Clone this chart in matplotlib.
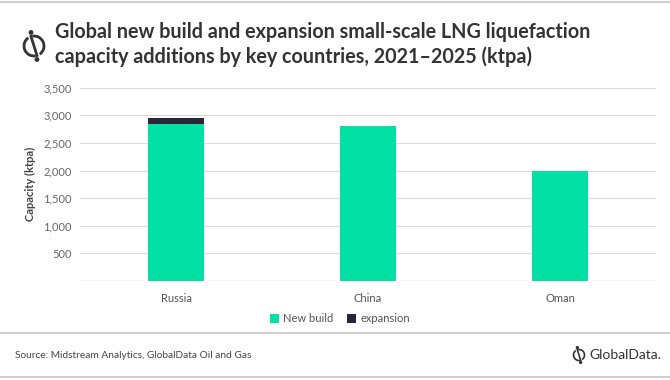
import matplotlib
matplotlib.use("Agg")
import matplotlib.pyplot as plt
from matplotlib.patches import Arc, Circle
from matplotlib.lines import Line2D

countries = ["Russia", "China", "Oman"]
new_build = [2850, 2800, 2000]
expansion = [100, 0, 0]
yticks = [500, 1000, 1500, 2000, 2500, 3000, 3500]

GREEN = "#03E0A3"
DARK = "#2A2639"
FONT = ["Lato", "DejaVu Sans"]
plt.rcParams["font.family"] = FONT

W, H = 670, 380
fig = plt.figure(figsize=(W / 100, H / 100), dpi=100)

ax = fig.add_axes([80 / W, 1 - 281 / H, (656 - 80) / W, (281 - 87.7) / H])
x = list(range(len(countries)))
ax.bar(x, new_build, width=0.29, color=GREEN, label="New build", zorder=3)
ax.bar(x, expansion, width=0.29, bottom=new_build, color=DARK, label="expansion", zorder=3)
ax.set_xlim(-0.5, len(countries) - 0.5)
ax.set_ylim(0, 3500)
ax.set_yticks(yticks)
ax.set_yticklabels([f"{v:,}" for v in yticks], color="#666666", fontsize=8)
ax.set_xticks(x)
ax.set_xticklabels(countries, color="#555555", fontsize=8)
ax.tick_params(length=0, pad=6)
ax.tick_params(axis="x", pad=9)
ax.grid(axis="y", color="#D9D9D9", linewidth=0.8, zorder=0)
ax.axhline(0, color="#D9D9D9", linewidth=1.0, zorder=2)
for s in ax.spines.values():
    s.set_visible(False)
ax.set_ylabel("Capacity (ktpa)", fontsize=8, fontweight="bold", color="#444444", labelpad=5)

leg = fig.legend(loc="center", bbox_to_anchor=(340 / W, 1 - 319 / H), ncol=2, frameon=False,
                 fontsize=8, handlelength=0.8, handleheight=0.8, handletextpad=0.4, columnspacing=1.2)
for t in leg.get_texts():
    t.set_color("#555555")

# title
fig.text(55 / W, 1 - 32 / H, "Global new build and expansion small-scale LNG liquefaction",
         fontsize=14.2, fontweight="bold", color="#333333", va="center", ha="left")
fig.text(55 / W, 1 - 57 / H, "capacity additions by key countries, 2021\u20132025 (ktpa)",
         fontsize=14.2, fontweight="bold", color="#333333", va="center", ha="left")

# separators
for yy in [1.5, 333, 377]:
    fig.add_artist(Line2D([0, 1], [1 - yy / H] * 2, color="#D0D0D0", linewidth=1.5,
                          transform=fig.transFigure))

fig.text(15 / W, 1 - 355 / H, "Source: Midstream Analytics, GlobalData Oil and Gas",
         fontsize=7.3, color="#444444", va="center", ha="left")
fig.text(589 / W, 1 - 355 / H, "GlobalData.", fontsize=10, color="#333333", va="center", ha="left")

# logos (overlay axes in pixel coords)
lax = fig.add_axes([0, 0, 1, 1], zorder=10)
lax.set_xlim(0, W)
lax.set_ylim(0, H)
lax.axis("off")

def logo(cx, cy, r, lw):
    cy = H - cy
    lax.add_patch(Arc((cx, cy), 2 * r, 2 * r, theta1=125, theta2=280, color="#333333", lw=lw))
    lax.add_patch(Arc((cx, cy), 2 * r, 2 * r, theta1=305, theta2=460, color="#333333", lw=lw))
    lax.plot([cx - r * 0.3, cx + r * 0.3], [cy + r * 0.95, cy - r * 0.95], color="#333333", lw=lw)
    lax.add_patch(Circle((cx - r * 0.3, cy + r * 1.35), r * 0.17, color="#333333"))
    lax.add_patch(Circle((cx + r * 0.3, cy - r * 1.35), r * 0.17, color="#333333"))

logo(34, 46, 10, 2.0)
logo(579, 355, 5.5, 1.2)

fig.savefig("out.png", dpi=100)
